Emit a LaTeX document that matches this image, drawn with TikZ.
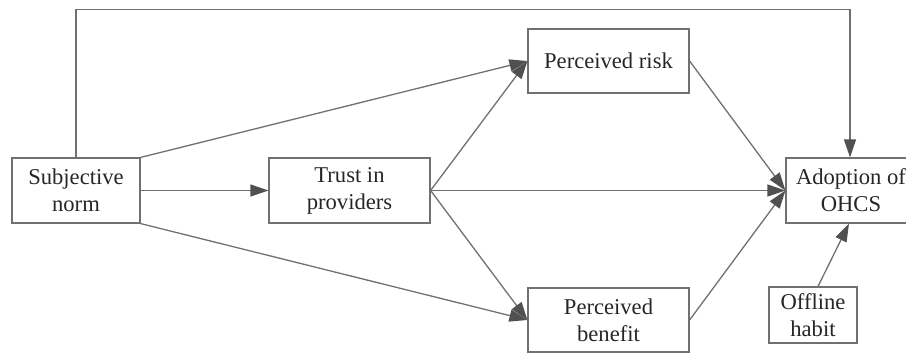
\documentclass[tikz,border=0pt]{standalone}
\usepackage{fontspec}
\setmainfont{Liberation Serif}
\usetikzlibrary{arrows.meta}
\definecolor{linegray}{RGB}{112,112,112}
\definecolor{tipgray}{RGB}{80,80,80}

\begin{document}
\begin{tikzpicture}[x=0.5pt, y=-0.5pt, box/.style={draw=linegray, line width=0.6pt, align=center, inner sep=0pt, minimum height=32.5pt, font=\fontsize{11.3}{13.5}\selectfont, text=black!85}, arr/.style={draw=linegray, line width=0.65pt, -{Triangle[length=9pt,width=6pt,color=tipgray]}}]
\useasboundingbox (0,0) rectangle (906,354);
\clip (0,0) rectangle (906,354);
\node[box,minimum width=64pt] (subj) at (76,190.5) {Subjective\\norm};
\node[box,minimum width=80.5pt] (trust) at (349.5,190.5) {Trust in\\providers};
\node[box,minimum width=80.5pt,minimum height=32pt] (risk) at (608.5,61) {Perceived risk};
\node[box,minimum width=80.5pt,minimum height=32pt] (benefit) at (608.5,320) {Perceived\\benefit};
\node[box,minimum width=65pt] (adopt) at (851,190.5) {Adoption of\\OHCS};
\node[box,minimum width=44pt,minimum height=28pt] (habit) at (813,315) {Offline\\habit};
\coordinate (topright) at (850,9.5);
\draw[arr] (subj.north) |- (topright) -- (topright |- adopt.north);
\draw[arr] (subj.east)--(trust.west);
\draw[arr] (subj.north east)--(risk.west);
\draw[arr] (subj.south east)--(benefit.west);
\draw[arr] (trust.east)--(risk.west);
\draw[arr] (trust.east)--(benefit.west);
\draw[arr] (trust.east)--(adopt.west);
\draw[arr] (risk.east)--(adopt.west);
\draw[arr] (benefit.east)--(adopt.west);
\draw[arr] ([xshift=2.5pt]habit.north)--([xshift=-1pt]adopt.south);
\end{tikzpicture}
\end{document}
